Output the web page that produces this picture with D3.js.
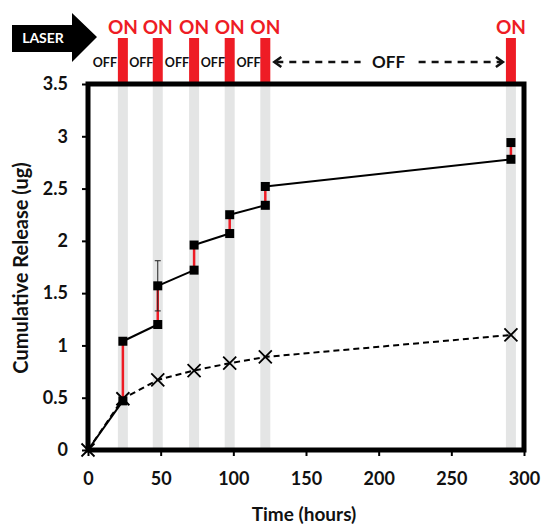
<!DOCTYPE html>
<html>
<head>
<meta charset="utf-8">
<script src="https://cdn.jsdelivr.net/npm/d3@7"></script>
<style>
  body { margin: 0; background: #fff; }
  text { font-family: Lato, "Open Sans", sans-serif; font-weight: bold; }
</style>
</head>
<body>
<div id="chart"></div>
<script>
// laser pulse times (hours)
const pulseTimes = [24, 48, 73, 97.5, 122, 291];

// laser-treated series: value before and after each pulse
const laserTimes  = [0, 24, 48, 73, 97.5, 122, 291];
const laserBefore = [0, 0.47, 1.20, 1.72, 2.07, 2.34, 2.78];
const laserAfter  = [0, 1.04, 1.57, 1.96, 2.25, 2.52, 2.94];
const laserErr    = [0, 0, 0.24, 0, 0, 0, 0];

// control series (no laser)
const ctrlTimes  = [0, 24, 48, 73, 97.5, 122, 291];
const ctrlValues = [0, 0.49, 0.67, 0.76, 0.83, 0.89, 1.10];

const xTicks = [0, 50, 100, 150, 200, 250, 300];
const yTicks = [0, 0.5, 1, 1.5, 2, 2.5, 3, 3.5];

const width = 542, height = 528;
const svg = d3.select("#chart").append("svg")
  .attr("width", width).attr("height", height);

const x = d3.scaleLinear().domain([0, 300]).range([88, 524]);
const y = d3.scaleLinear().domain([0, 3.5]).range([450, 84]);

// gray bands for laser pulses
svg.append("g").selectAll("rect")
  .data(pulseTimes).enter().append("rect")
  .attr("x", d => x(d) - 5).attr("width", 10)
  .attr("y", y(3.5)).attr("height", y(0) - y(3.5))
  .attr("fill", "#e4e5e5");

// red ON bars above the plot
svg.append("g").selectAll("rect")
  .data(pulseTimes).enter().append("rect")
  .attr("x", d => x(d) - 5).attr("width", 10)
  .attr("y", 38).attr("height", y(3.5) - 38)
  .attr("fill", "#ee1c25");

// ON labels
svg.append("g").selectAll("text")
  .data(pulseTimes).enter().append("text")
  .attr("x", d => x(d)).attr("y", 34)
  .attr("text-anchor", "middle")
  .attr("fill", "#ee1c25").attr("font-size", 19)
  .text("ON");

// OFF labels between pulses
const offMids = [0, 24, 48, 73, 97.5];
svg.append("g").selectAll("text")
  .data(offMids).enter().append("text")
  .attr("x", (d, i) => i === 0 ? x(pulseTimes[0]) - 18 : (x(d) + x(pulseTimes[i])) / 2 + 1)
  .attr("y", 67)
  .attr("text-anchor", "middle")
  .attr("fill", "#111").attr("font-size", 12.5)
  .text("OFF");

// long OFF dashed arrow
const arrY = 62;
const xa = x(pulseTimes[4]) + 9, xb = x(pulseTimes[5]) - 8;
const mid = (xa + xb) / 2;
svg.append("line").attr("x1", xa + 2).attr("x2", mid - 28)
  .attr("y1", arrY).attr("y2", arrY)
  .attr("stroke", "#111").attr("stroke-width", 2.5).attr("stroke-dasharray", "7,6");
svg.append("line").attr("x1", mid + 30).attr("x2", xb - 2)
  .attr("y1", arrY).attr("y2", arrY)
  .attr("stroke", "#111").attr("stroke-width", 2.5).attr("stroke-dasharray", "7,6");
svg.append("path")
  .attr("d", `M${xa + 7},${arrY - 5} L${xa},${arrY} L${xa + 7},${arrY + 5}`)
  .attr("fill", "none").attr("stroke", "#111").attr("stroke-width", 2.5);
svg.append("path")
  .attr("d", `M${xb - 7},${arrY - 5} L${xb},${arrY} L${xb - 7},${arrY + 5}`)
  .attr("fill", "none").attr("stroke", "#111").attr("stroke-width", 2.5);
svg.append("text").attr("x", mid).attr("y", arrY + 6)
  .attr("text-anchor", "middle").attr("font-size", 17).attr("fill", "#111")
  .text("OFF");

// LASER arrow
svg.append("path")
  .attr("d", "M12,25 L72,25 L72,13 L97,37 L72,62 L72,52 L12,52 Z")
  .attr("fill", "#000");
svg.append("text").attr("x", 43).attr("y", 43)
  .attr("text-anchor", "middle").attr("fill", "#fff").attr("font-size", 14)
  .text("LASER");

// control dashed line
svg.append("path")
  .datum(ctrlTimes.map((t, i) => [t, ctrlValues[i]]))
  .attr("d", d3.line().x(d => x(d[0])).y(d => y(d[1])))
  .attr("fill", "none").attr("stroke", "#000")
  .attr("stroke-width", 2).attr("stroke-dasharray", "6,4");

// laser series black segments (after pulse -> before next pulse)
const segs = [];
for (let i = 0; i < laserTimes.length - 1; i++) {
  segs.push([[laserTimes[i], laserAfter[i]], [laserTimes[i + 1], laserBefore[i + 1]]]);
}
svg.append("g").selectAll("path")
  .data(segs).enter().append("path")
  .attr("d", d3.line().x(d => x(d[0])).y(d => y(d[1])))
  .attr("fill", "none").attr("stroke", "#000").attr("stroke-width", 2);

// red jumps at pulses
svg.append("g").selectAll("line")
  .data(laserTimes.slice(1).map((t, i) => i + 1)).enter().append("line")
  .attr("x1", i => x(laserTimes[i])).attr("x2", i => x(laserTimes[i]))
  .attr("y1", i => y(laserBefore[i])).attr("y2", i => y(laserAfter[i]))
  .attr("stroke", "#ee1c25").attr("stroke-width", 2.5);

// error bars
const errIdx = laserErr.map((e, i) => i).filter(i => laserErr[i] > 0);
const eb = svg.append("g").attr("stroke", "#222").attr("stroke-width", 1);
errIdx.forEach(i => {
  const cx = x(laserTimes[i]);
  const lo = y(laserAfter[i] - laserErr[i]), hi = y(laserAfter[i] + laserErr[i]);
  eb.append("line").attr("x1", cx).attr("x2", cx).attr("y1", lo).attr("y2", hi);
  eb.append("line").attr("x1", cx - 3).attr("x2", cx + 3).attr("y1", lo).attr("y2", lo);
  eb.append("line").attr("x1", cx - 3).attr("x2", cx + 3).attr("y1", hi).attr("y2", hi);
});

// square markers
const sq = [];
laserTimes.forEach((t, i) => {
  if (i === 0) return;
  sq.push([t, laserBefore[i]]);
  sq.push([t, laserAfter[i]]);
});
svg.append("g").selectAll("rect")
  .data(sq).enter().append("rect")
  .attr("x", d => x(d[0]) - 4.5).attr("y", d => y(d[1]) - 4.5)
  .attr("width", 9).attr("height", 9).attr("fill", "#000");

// X markers
svg.append("g").selectAll("path")
  .data(ctrlTimes.map((t, i) => [t, ctrlValues[i]])).enter().append("path")
  .attr("d", d => {
    const cx = x(d[0]), cy = y(d[1]), r = 6.5;
    return `M${cx - r},${cy - r}L${cx + r},${cy + r}M${cx - r},${cy + r}L${cx + r},${cy - r}`;
  })
  .attr("stroke", "#000").attr("stroke-width", 1.8);

// frame
svg.append("rect")
  .attr("x", x(0)).attr("y", y(3.5))
  .attr("width", x(300) - x(0)).attr("height", y(0) - y(3.5))
  .attr("fill", "none").attr("stroke", "#000").attr("stroke-width", 5);

// axes
const xAxis = svg.append("g").attr("transform", `translate(0,${y(0)})`)
  .call(d3.axisBottom(x).tickValues(xTicks).tickSize(6).tickSizeOuter(0).tickPadding(16));
const yAxis = svg.append("g").attr("transform", `translate(${x(0)},0)`)
  .call(d3.axisLeft(y).tickValues(yTicks).tickSize(6).tickSizeOuter(0).tickPadding(14)
    .tickFormat(d => d));
[xAxis, yAxis].forEach(a => {
  a.select(".domain").remove();
  a.selectAll("line").attr("stroke", "#000").attr("stroke-width", 2);
  a.selectAll("text").attr("font-size", 18).attr("fill", "#111")
    .style("font-family", "Lato, sans-serif").style("font-weight", "bold");
});

// axis titles
svg.append("text").attr("x", 304).attr("y", 521)
  .attr("text-anchor", "middle").attr("font-size", 19).attr("fill", "#111")
  .text("Time (hours)");
svg.append("text")
  .attr("transform", "translate(28,268) rotate(-90)")
  .attr("text-anchor", "middle").attr("font-size", 20).attr("fill", "#111")
  .text("Cumulative Release (ug)");
</script>
</body>
</html>
